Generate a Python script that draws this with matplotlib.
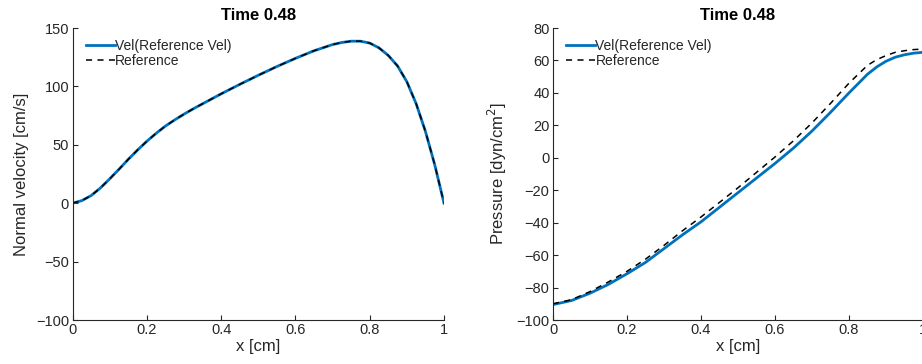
import numpy as np
import matplotlib.pyplot as plt

plt.rcParams['font.family'] = ['Liberation Sans', 'DejaVu Sans']

# normal velocity along the boundary
x_vel = [0.0, 0.025, 0.05, 0.075, 0.1, 0.125, 0.15, 0.175, 0.2, 0.225, 0.25,
         0.275, 0.3, 0.325, 0.35, 0.4, 0.45, 0.5, 0.55, 0.6, 0.65, 0.7, 0.725,
         0.75, 0.775, 0.8, 0.825, 0.85, 0.875, 0.9, 0.925, 0.95, 0.975, 1.0]
vel = [0, 2.2, 6.5, 13, 20.8, 29, 37.5, 45.5, 53, 59.8, 66, 71.3, 76.2, 80.8,
       85.1, 93.6, 101.7, 109.5, 117, 124, 130.5, 135.8, 137.6, 138.7, 138.7,
       137.1, 133, 126.5, 117.5, 104, 85.2, 61.5, 33, 0]
vel_ref = list(vel)

# pressure along the boundary
x_p = [0.0, 0.05, 0.1, 0.15, 0.2, 0.25, 0.3, 0.35, 0.4, 0.45, 0.5, 0.55, 0.6,
       0.65, 0.7, 0.75, 0.8, 0.85, 0.875, 0.9, 0.925, 0.95, 0.975, 1.0]
pres = [-90.5, -88, -83.5, -78, -71.5, -64.5, -56, -47.5, -39.5, -30.5, -21.5,
        -12.5, -3.5, 6, 16.5, 28, 40, 51.5, 56, 59.5, 62, 63.5, 64.5, 65]
pres_ref = [-90, -87.5, -82.5, -76.5, -70, -62.5, -54, -45, -36.5, -27.5, -18.5,
            -9, 0.5, 10.5, 21.5, 33.5, 46, 57, 60.5, 63, 65, 66, 66.7, 67]

xticks = [0, 0.2, 0.4, 0.6, 0.8, 1]
xticklabels = ['0', '0.2', '0.4', '0.6', '0.8', '1']

blue = '#0072BD'
axcol = '#262626'

fig = plt.figure(figsize=(9.22, 3.64), dpi=100)
ax1 = fig.add_axes([72.5 / 922, 44 / 364, 371.5 / 922, 292 / 364])
ax2 = fig.add_axes([553 / 922, 44 / 364, 370 / 922, 292 / 364])


def style(ax, ylim, yticks, ylabel):
    ax.set_xlim(0, 1)
    ax.set_ylim(*ylim)
    ax.set_xticks(xticks)
    ax.set_xticklabels(xticklabels)
    ax.set_yticks(yticks)
    for s in ['top', 'right']:
        ax.spines[s].set_visible(False)
    for s in ['left', 'bottom']:
        ax.spines[s].set_color(axcol)
        ax.spines[s].set_linewidth(0.8)
    ax.tick_params(direction='in', length=3.5, width=0.8, colors=axcol,
                   labelsize=10.5, pad=2.5)
    ax.set_xlabel('x [cm]', fontsize=12, color=axcol, labelpad=1)
    ax.set_ylabel(ylabel, fontsize=12, color=axcol, labelpad=5)
    ax.set_title('Time 0.48', fontsize=12, fontweight='bold', pad=6)
    leg = ax.legend(loc='upper left', frameon=False, fontsize=10,
                    handlelength=2.1, handletextpad=0.0, borderaxespad=0.0,
                    labelspacing=0.1, bbox_to_anchor=(0.021, 0.982))
    for t in leg.get_texts():
        t.set_color(axcol)


ax1.plot(x_vel, vel, color=blue, lw=2, label='Vel(Reference Vel)')
ax1.plot(x_vel, vel_ref, color='black', lw=1.1, ls=(0, (4, 3.5)), label='Reference')
style(ax1, (-100, 150), np.arange(-100, 151, 50), 'Normal velocity [cm/s]')

ax2.plot(x_p, pres, color=blue, lw=2, label='Vel(Reference Vel)')
ax2.plot(x_p, pres_ref, color='black', lw=1.1, ls=(0, (4, 3.5)), label='Reference')
style(ax2, (-100, 80), np.arange(-100, 81, 20), 'Pressure [dyn/cm$^2$]')

fig.savefig('out.png', dpi=100)
